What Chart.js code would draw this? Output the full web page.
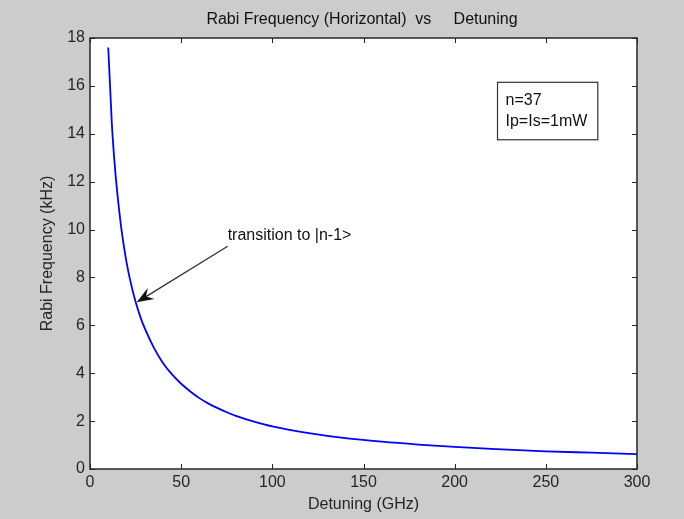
<!DOCTYPE html>
<html>
<head>
<meta charset="utf-8">
<script src="https://cdn.jsdelivr.net/npm/chart.js@4.4.1/dist/chart.umd.min.js"></script>
<style>
  body { margin: 0; background: #cccccc; }
  canvas { display: block; }
</style>
</head>
<body>
<canvas id="chart" width="684" height="519"></canvas>
<script>
// values
const detuning = [10, 11, 12, 13, 14, 15, 16, 17, 18, 20, 22, 25, 28, 30, 35, 40, 45, 50, 55, 60, 65, 70, 75, 80, 90, 100, 120, 140, 160, 180, 200, 220, 250, 275, 300];
const rabiFreq = [17.6, 16.0, 14.4, 13.25, 12.3, 11.5, 10.8, 10.15, 9.6, 8.65, 7.9, 6.98, 6.27, 5.88, 5.07, 4.43, 3.95, 3.56, 3.24, 2.96, 2.73, 2.54, 2.37, 2.22, 1.98, 1.78, 1.5, 1.29, 1.14, 1.02, 0.92, 0.84, 0.74, 0.68, 0.62];
const xTicks = [0, 50, 100, 150, 200, 250, 300];
const yTicks = [0, 2, 4, 6, 8, 10, 12, 14, 16, 18];
const infoLines = ['n=37', 'Ip=Is=1mW'];
const arrowNote = 'transition to |n-1>';

const FONT = '"Liberation Sans", Arial, sans-serif';

const matlabAxes = {
  id: 'matlabAxes',
  beforeDraw(chart) {
    const { ctx, chartArea: a } = chart;
    ctx.save();
    ctx.fillStyle = '#cccccc';
    ctx.fillRect(0, 0, chart.width, chart.height);
    ctx.fillStyle = '#ffffff';
    ctx.fillRect(a.left, a.top, a.right - a.left, a.bottom - a.top);
    ctx.restore();
  },
  afterDraw(chart) {
    const { ctx, chartArea: a, scales } = chart;
    const x = scales.x, y = scales.y;
    ctx.save();
    ctx.strokeStyle = '#262626';
    ctx.lineWidth = 1;
    // ticks inside, on all four sides
    ctx.beginPath();
    xTicks.forEach(v => {
      const px = Math.round(x.getPixelForValue(v)) + 0.5;
      ctx.moveTo(px, a.bottom); ctx.lineTo(px, a.bottom - 5);
      ctx.moveTo(px, a.top); ctx.lineTo(px, a.top + 5);
    });
    yTicks.forEach(v => {
      const py = Math.round(y.getPixelForValue(v)) + 0.5;
      ctx.moveTo(a.left, py); ctx.lineTo(a.left + 5, py);
      ctx.moveTo(a.right, py); ctx.lineTo(a.right - 5, py);
    });
    ctx.stroke();
    ctx.lineWidth = 1.5;
    ctx.strokeRect(a.left, a.top, a.right - a.left, a.bottom - a.top);

    // title
    ctx.fillStyle = '#111';
    ctx.font = '16px ' + FONT;
    ctx.textAlign = 'center';
    ctx.textBaseline = 'middle';
    ctx.fillText('Rabi Frequency (Horizontal)  vs     Detuning', 362, 20);

    // info box
    const bx = x.getPixelForValue(223.5), by = y.getPixelForValue(16.15);
    const bw = x.getPixelForValue(278.5) - bx, bh = y.getPixelForValue(13.75) - by;
    ctx.fillStyle = '#fff';
    ctx.fillRect(bx, by, bw, bh);
    ctx.lineWidth = 1.2;
    ctx.strokeStyle = '#333';
    ctx.strokeRect(bx, by, bw, bh);
    ctx.fillStyle = '#111';
    ctx.textAlign = 'left';
    ctx.fillText(infoLines[0], bx + 8, by + 18);
    ctx.fillText(infoLines[1], bx + 8, by + 39);

    // arrow annotation
    ctx.fillText(arrowNote, x.getPixelForValue(75.5), y.getPixelForValue(9.75));
    const tx = x.getPixelForValue(75.5), ty = y.getPixelForValue(9.3);
    const hx = x.getPixelForValue(25.6), hy = y.getPixelForValue(6.96);
    const ang = Math.atan2(hy - ty, hx - tx);
    const c = Math.cos(ang), s = Math.sin(ang);
    ctx.strokeStyle = '#333';
    ctx.lineWidth = 1.3;
    ctx.beginPath();
    ctx.moveTo(tx, ty);
    ctx.lineTo(hx - 10 * c, hy - 10 * s);
    ctx.stroke();
    const L = 17, W = 6.5;
    const bxh = hx - L * c, byh = hy - L * s;
    ctx.fillStyle = '#111';
    ctx.beginPath();
    ctx.moveTo(hx, hy);
    ctx.lineTo(bxh - W * s, byh + W * c);
    ctx.lineTo(hx - 11 * c, hy - 11 * s);
    ctx.lineTo(bxh + W * s, byh - W * c);
    ctx.closePath();
    ctx.fill();
    ctx.restore();
  }
};

new Chart(document.getElementById('chart'), {
  type: 'line',
  data: {
    datasets: [{
      data: detuning.map((d, i) => ({ x: d, y: rabiFreq[i] })),
      borderColor: '#0000ff',
      borderWidth: 1.8,
      pointRadius: 0,
      fill: false,
      cubicInterpolationMode: 'monotone'
    }]
  },
  options: {
    responsive: false,
    animation: false,
    layout: { padding: { top: 38, right: 47, left: 0, bottom: 0 } },
    plugins: { legend: { display: false }, tooltip: { enabled: false }, title: { display: false } },
    scales: {
      x: {
        type: 'linear', min: 0, max: 300,
        afterBuildTicks: s => { s.ticks = xTicks.map(v => ({ value: v })); },
        afterFit: s => { s.height = 50; },
        grid: { display: false, drawTicks: false },
        border: { display: false },
        ticks: { font: { family: FONT, size: 16 }, color: '#262626', padding: 4, maxRotation: 0 },
        title: { display: true, text: 'Detuning (GHz)', font: { family: FONT, size: 16 }, color: '#262626', padding: { top: 0, bottom: 5 } }
      },
      y: {
        type: 'linear', min: 0, max: 18,
        afterBuildTicks: s => { s.ticks = yTicks.map(v => ({ value: v })); },
        afterFit: s => { s.width = 90; },
        grid: { display: false, drawTicks: false },
        border: { display: false },
        ticks: { font: { family: FONT, size: 16 }, color: '#262626', padding: 5 },
        title: { display: true, text: 'Rabi Frequency (kHz)', font: { family: FONT, size: 16 }, color: '#262626', padding: { top: 38, bottom: 0 } }
      }
    }
  },
  plugins: [matlabAxes]
});
</script>
</body>
</html>
